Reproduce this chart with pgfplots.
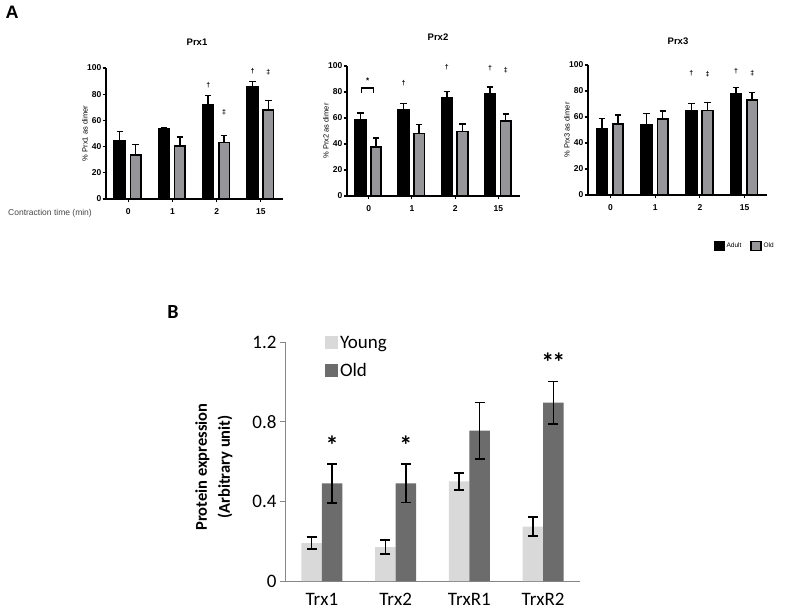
\documentclass[border=0pt]{standalone}
\usepackage{fontspec}
\setmainfont{Liberation Sans}
\newfontfamily\carlito{Carlito}
\usepackage{pgfplots}
\pgfplotsset{compat=1.18}

\definecolor{oldgrey}{RGB}{150,150,154}
\definecolor{bYoung}{RGB}{217,217,217}
\definecolor{bOld}{RGB}{108,108,108}
\definecolor{bAxis}{RGB}{134,134,134}
\definecolor{ctgrey}{RGB}{70,70,70}

\tikzset{mk/.style={font=\bfseries\fontsize{7}{7}\selectfont, inner sep=0pt}}

\pgfplotsset{
 prxstyle/.style={
  scale only axis, anchor=south west,
  width=177pt, height=131pt,
  xmin=-0.5, xmax=3.5, ymin=0, ymax=100,
  axis lines=left, axis line style={line width=1.5pt, -},
  xtick={0,1,2,3}, xticklabels={0,1,2,15},
  ytick={0,20,40,60,80,100},
  tick style={line width=1.2pt, black},
  major tick length=3.5pt, tick align=outside,
  tick label style={font=\bfseries\fontsize{8.5}{9}\selectfont},
  yticklabel style={inner sep=1pt},
  xticklabel style={yshift=-3pt},
  /pgf/number format/assume math mode=true,
  ylabel style={font=\fontsize{7.5}{8}\selectfont, yshift=-5pt},
  clip=false,
 },
 aerr/.style={
   /pgfplots/error bars/y dir=plus, /pgfplots/error bars/y explicit,
   /pgfplots/error bars/error bar style={line width=1.5pt, black},
   /pgfplots/error bars/error mark options={rotate=90, mark size=3.2pt, line width=1.5pt, black}},
 adultbar/.style={ybar, bar width=11.5pt, bar shift=0pt, fill=black, draw=black, line width=1pt, aerr},
 oldbar/.style={ybar, bar width=10.5pt, bar shift=0pt, fill=oldgrey, draw=black, line width=1.6pt, aerr},
 bbar/.style={ybar, bar width=20.5pt, bar shift=0pt, draw=none,
   /pgfplots/error bars/y dir=both, /pgfplots/error bars/y explicit,
   /pgfplots/error bars/error bar style={line width=1.4pt, black},
   /pgfplots/error bars/error mark options={rotate=90, mark size=5pt, line width=1.4pt, black}},
}

\begin{document}
\begin{tikzpicture}
\path[use as bounding box] (0pt,0pt) rectangle (789pt,613pt);

% Panel labels
\node[font=\bfseries\fontsize{18}{20}\selectfont] at (12pt,601pt) {A};
\node[font=\carlito\bfseries\fontsize{20}{22}\selectfont] at (173pt,301pt) {B};

% Titles
\node[font=\bfseries\fontsize{9.5}{10}\selectfont] at (197pt,571pt) {Prx1};
\node[font=\bfseries\fontsize{9.5}{10}\selectfont] at (438pt,576pt) {Prx2};
\node[font=\bfseries\fontsize{9.5}{10}\selectfont] at (678pt,572pt) {Prx3};

\node[font=\fontsize{8.5}{10}\selectfont, text=ctgrey] at (50pt,400pt) {Contraction time (min)};

% ---------- Prx1 ----------
\begin{axis}[prxstyle, at={(106pt,414pt)}, ylabel={\% Prx1 as dimer}]
\addplot[adultbar] coordinates {(-0.19,45) +- (0,6.5) (0.81,53.5) +- (0,1) (1.81,72.5) +- (0,6.5) (2.81,86) +- (0,3.5)};
\addplot[oldbar] coordinates {(0.17,33.5) +- (0,8) (1.17,40.5) +- (0,7) (2.17,43) +- (0,5.5) (3.17,68) +- (0,7)};
\node[mk] at (axis cs:1.81,87) {†};
\node[mk] at (axis cs:2.17,66) {‡};
\node[mk] at (axis cs:2.81,97.5) {†};
\node[mk] at (axis cs:3.17,97) {‡};
\end{axis}

% ---------- Prx2 ----------
\begin{axis}[prxstyle, at={(347pt,417pt)}, height=130pt, width=173pt, ylabel={\% Prx2 as dimer}]
\addplot[adultbar] coordinates {(-0.19,58.5) +- (0,5.5) (0.81,66.5) +- (0,4.5) (1.81,75.5) +- (0,5) (2.81,79) +- (0,5)};
\addplot[oldbar] coordinates {(0.17,37.5) +- (0,7) (1.17,48) +- (0,7) (2.17,49.5) +- (0,6) (3.17,57.5) +- (0,5.5)};
\draw[line width=1.4pt] (axis cs:-0.17,79) -- (axis cs:-0.17,83) -- (axis cs:0.11,83) -- (axis cs:0.11,79);
\node[font=\bfseries\fontsize{8}{8}\selectfont] at (axis cs:-0.02,88.7) {*};
\node[mk] at (axis cs:0.81,87) {†};
\node[mk] at (axis cs:1.81,99) {†};
\node[mk] at (axis cs:2.81,98) {†};
\node[mk] at (axis cs:3.17,97) {‡};
\end{axis}

% ---------- Prx3 ----------
\begin{axis}[prxstyle, at={(588pt,418pt)}, height=130pt, width=179pt, ylabel={\% Prx3 as dimer},
  legend style={at={(axis description cs:0.685,-0.39)}, anchor=west, draw=none, fill=none,
    font=\fontsize{6.5}{7}\selectfont, legend columns=2,
    /tikz/every even column/.append style={column sep=7pt}}]
\addplot[adultbar, legend image code/.code={\draw[fill=black,draw=black,line width=0.8pt] (0pt,-4.5pt) rectangle (10pt,4.5pt);}] coordinates {(-0.19,51) +- (0,8) (0.81,54.5) +- (0,8) (1.81,65) +- (0,5.5) (2.81,78) +- (0,4.5)};
\addlegendentry{Adult}
\addplot[oldbar, legend image code/.code={\draw[fill=oldgrey,draw=black,line width=1.2pt] (0pt,-4.5pt) rectangle (10pt,4.5pt);}] coordinates {(0.17,54.5) +- (0,7) (1.17,58.5) +- (0,6) (2.17,65) +- (0,6) (3.17,73) +- (0,6)};
\addlegendentry{Old}
\node[mk] at (axis cs:1.81,93.6) {†};
\node[mk] at (axis cs:2.17,93) {‡};
\node[mk] at (axis cs:2.81,95) {†};
\node[mk] at (axis cs:3.17,94) {‡};
\end{axis}

% ---------- Panel B ----------
\node[rotate=90, align=center, font=\carlito\bfseries\fontsize{16.5}{23}\selectfont] at (214pt,146pt) {Protein expression\\(Arbitrary unit)};
\begin{axis}[scale only axis, anchor=south west, at={(285pt,32pt)},
  width=295pt, height=239pt,
  xmin=-0.5, xmax=3.5, ymin=0, ymax=1.2,
  axis lines=left, axis line style={bAxis, line width=0.9pt, -},
  xtick={0,1,2,3}, xticklabels={Trx1,Trx2,TrxR1,TrxR2},
  major x tick style={draw=none},
  xticklabel style={yshift=-4pt},
  extra x ticks={-0.5,0.5,1.5,2.5,3.5}, extra x tick labels={},
  extra x tick style={major tick length=5pt, tick align=outside, tick style={bAxis, line width=0.9pt}},
  ytick={0,0.4,0.8,1.2}, yticklabels={0,0.4,0.8,1.2},
  ytick style={bAxis, line width=0.9pt}, major tick length=5pt, tick align=outside,
  tick label style={font=\carlito\fontsize{19}{20}\selectfont},
  /pgf/number format/assume math mode=true,
  clip=false,
  legend style={draw=none, fill=none, at={(axis description cs:0.135,1.035)}, anchor=north west,
    font=\carlito\fontsize{19}{20}\selectfont, row sep=10pt, inner sep=0pt},
  legend cell align=left,
]
\addplot[bbar, fill=bYoung, legend image code/.code={\fill[bYoung] (0pt,-6.5pt) rectangle (13pt,6.5pt);}]
  coordinates {(-0.139,0.19) +- (0,0.03) (0.861,0.17) +- (0,0.035) (1.861,0.50) +- (0,0.043) (2.861,0.273) +- (0,0.048)};
\addlegendentry{Young}
\addplot[bbar, fill=bOld, legend image code/.code={\fill[bOld] (0pt,-6.5pt) rectangle (13pt,6.5pt);}]
  coordinates {(0.139,0.49) +- (0,0.098) (1.139,0.49) +- (0,0.097) (2.139,0.755) +- (0,0.142) (3.139,0.895) +- (0,0.106)};
\addlegendentry{Old}
\node[font=\carlito\bfseries\fontsize{26}{26}\selectfont] at (axis cs:0.139,0.68) {*};
\node[font=\carlito\bfseries\fontsize{26}{26}\selectfont] at (axis cs:1.139,0.68) {*};
\node[font=\carlito\bfseries\fontsize{26}{26}\selectfont] at (axis cs:3.139,1.10) {*\kern-2pt*};
\end{axis}
\end{tikzpicture}
\end{document}
